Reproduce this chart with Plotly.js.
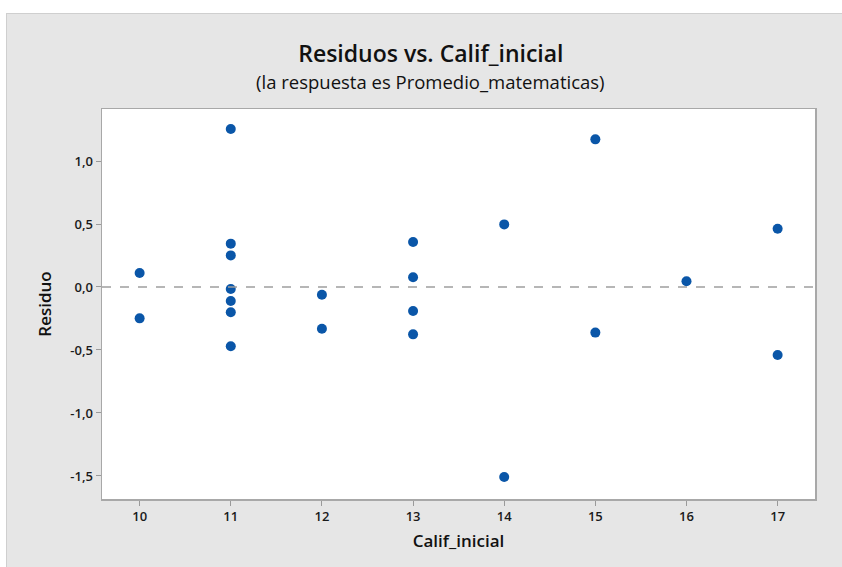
<!DOCTYPE html>
<html>
<head>
<meta charset="utf-8">
<script src="https://cdn.plot.ly/plotly-3.0.1.min.js"></script>
<style>
  html, body { margin: 0; padding: 0; background: #ffffff; }
  #chart { position: absolute; left: 6px; top: 13px; width: 836px; height: 554px;
           box-sizing: border-box; border-top: 1px solid #cfcfcf; border-left: 1px solid #cfcfcf; }
</style>
</head>
<body>
<div id="chart"></div>
<script>
// Data
const califInicial = [10, 10, 11, 11, 11, 11, 11, 11, 11, 12, 12, 13, 13, 13, 13, 14, 14, 15, 15, 16, 17, 17];
const residuos = [0.111, -0.249, 1.254, 0.344, 0.251, -0.016, -0.111, -0.201, -0.471, -0.061, -0.331,
                  0.357, 0.077, -0.190, -0.376, 0.497, -1.508, 1.172, -0.362, 0.045, 0.463, -0.540];
const xTicks = [10, 11, 12, 13, 14, 15, 16, 17];
const yTicks = [-1.5, -1.0, -0.5, 0.0, 0.5, 1.0];
const yTickText = ["-1,5", "-1,0", "-0,5", "0,0", "0,5", "1,0"];

const fontFam = "'Open Sans', 'Noto Sans', sans-serif";

const trace = {
  x: califInicial,
  y: residuos,
  type: 'scatter',
  mode: 'markers',
  marker: { color: '#0a56a8', size: 10 },
  hoverinfo: 'x+y'
};

const layout = {
  width: 836,
  height: 554,
  paper_bgcolor: '#e6e6e6',
  plot_bgcolor: '#ffffff',
  margin: { l: 95, r: 28, t: 95, b: 69 },
  showlegend: false,
  font: { family: fontFam, color: '#1a1a1a' },
  title: {
    text: 'Residuos vs. Calif_inicial',
    font: { family: fontFam, size: 23, weight: 600, color: '#111111' },
    x: 0.507, xanchor: 'center', xref: 'container',
    y: 0.928, yanchor: 'middle', yref: 'container'
  },
  annotations: [{
    text: '(la respuesta es Promedio_matematicas)',
    xref: 'paper', yref: 'paper', x: 0.461, y: 1.07,
    xanchor: 'center', yanchor: 'middle', showarrow: false,
    font: { family: fontFam, size: 18.5, color: '#111111' }
  }],
  xaxis: {
    range: [9.587, 17.41],
    tickvals: xTicks,
    ticktext: xTicks.map(String),
    ticks: 'outside', ticklen: 5, tickcolor: '#9a9a9a', tickwidth: 1,
    showline: true, linecolor: '#a8a8a8', linewidth: 1.5, mirror: true,
    showgrid: false, zeroline: false,
    tickfont: { family: fontFam, size: 13, weight: 600, color: '#1a1a1a' },
    title: { text: 'Calif_inicial', font: { family: fontFam, size: 17, weight: 600, color: '#111111' }, standoff: 11 }
  },
  yaxis: {
    range: [-1.683, 1.413],
    tickvals: yTicks,
    ticktext: yTickText,
    ticks: 'outside', ticklen: 5, tickcolor: '#9a9a9a', tickwidth: 1,
    showline: true, linecolor: '#a8a8a8', linewidth: 1.5, mirror: true,
    showgrid: false, zeroline: false,
    tickfont: { family: fontFam, size: 13, weight: 600, color: '#1a1a1a' },
    title: { text: 'Residuo', font: { family: fontFam, size: 17, weight: 600, color: '#111111' }, standoff: 14 }
  },
  shapes: [{
    type: 'line', xref: 'paper', yref: 'y',
    x0: 0, x1: 1, y0: 0, y1: 0,
    line: { color: '#9e9e9e', width: 1.6, dash: 'dash' }
  }]
};

Plotly.newPlot('chart', [trace], layout, { displayModeBar: false, staticPlot: true });
</script>
</body>
</html>
